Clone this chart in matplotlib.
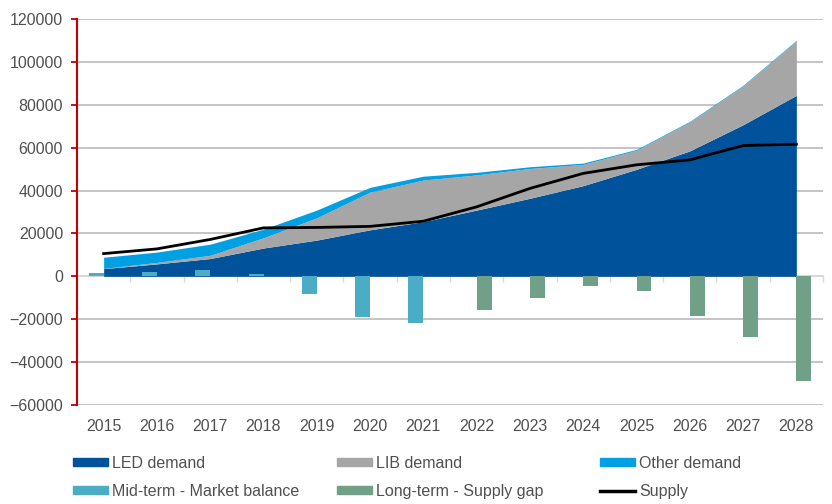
import matplotlib
matplotlib.use("Agg")
import matplotlib.pyplot as plt
import numpy as np
from matplotlib.patches import Patch
from matplotlib.lines import Line2D

plt.rcParams["font.family"] = ["Liberation Sans", "DejaVu Sans"]

years = [2015, 2016, 2017, 2018, 2019, 2020, 2021,
         2022, 2023, 2024, 2025, 2026, 2027, 2028]
led_demand = [3600, 5800, 8300, 13200, 16900, 21700, 25500,
              30900, 36400, 42300, 49900, 58500, 70700, 84400]
lib_demand = [100, 700, 1500, 4800, 10400, 17600, 19400,
              16400, 13900, 9900, 8900, 13500, 18100, 25400]
other_demand = [5200, 4800, 5200, 4000, 3600, 2200, 1800,
                1200, 800, 600, 400, 300, 300, 300]
supply = [10600, 12800, 17200, 22600, 22800, 23300, 25700,
          32400, 41000, 48000, 52000, 54300, 61000, 61600]
mid_term = [1700, 2100, 3000, 1000, -8200, -19000, -21600,
            np.nan, np.nan, np.nan, np.nan, np.nan, np.nan, np.nan]
long_term = [np.nan, np.nan, np.nan, np.nan, np.nan, np.nan, np.nan,
             -15800, -10200, -4500, -7000, -18300, -28400, -48800]

c_led = "#00529B"
c_lib = "#A6A6A6"
c_other = "#00A0E3"
c_mid = "#4BACC6"
c_long = "#70A088"
c_text = "#505050"

W, H = 832, 504
fig = plt.figure(figsize=(W / 100, H / 100), dpi=100)
ax = fig.add_axes([77 / W, 1 - 405 / H, (823 - 77) / W, (405 - 19) / H])

x = np.arange(len(years))
base1 = np.array(led_demand)
base2 = base1 + np.array(lib_demand)
base3 = base2 + np.array(other_demand)

ax.fill_between(x, 0, base1, color=c_led, lw=0, zorder=2)
ax.fill_between(x, base1, base2, color=c_lib, lw=0, zorder=2)
ax.fill_between(x, base2, base3, color=c_other, lw=0, zorder=2)

bw = 0.28
ax.bar(x - bw / 2, mid_term, width=bw, color=c_mid, zorder=3)
ax.bar(x + bw / 2, long_term, width=bw, color=c_long, zorder=3)

ax.plot(x, supply, color="black", lw=2, zorder=4)

ax.set_xlim(-0.5, len(years) - 0.5)
ax.set_ylim(-60000, 120000)
ax.set_yticks(np.arange(-60000, 120001, 20000))
ax.yaxis.grid(True, color="#BFBFBF", lw=1.3)
ax.set_axisbelow(True)

for s in ["top", "right"]:
    ax.spines[s].set_visible(False)
ax.spines["left"].set_color("#C00000")
ax.spines["left"].set_linewidth(1.5)
ax.tick_params(axis="y", colors="#C00000", length=4, width=1.3,
               labelcolor=c_text, labelsize=11.5, pad=6)

# category axis drawn at zero, year labels at the bottom
ax.spines["bottom"].set_position(("data", 0))
ax.spines["bottom"].set_color("#D9D9D9")
ax.spines["bottom"].set_linewidth(1.3)
ax.spines["bottom"].set_zorder(1)
ax.set_xticks(np.arange(0.5, len(years), 1.0))
ax.tick_params(axis="x", colors="#D9D9D9", length=4, width=1,
               labelbottom=False)

sec = ax.secondary_xaxis(0)
sec.set_xticks(x, labels=[str(y) for y in years])
sec.tick_params(length=0, labelsize=11.5, labelcolor=c_text, pad=10)
sec.spines["bottom"].set_visible(False)

# legend in three equal columns
cols = [
    [(Patch(color=c_led), "LED demand"),
     (Patch(color=c_mid), "Mid-term - Market balance")],
    [(Patch(color=c_lib), "LIB demand"),
     (Patch(color=c_long), "Long-term - Supply gap")],
    [(Patch(color=c_other), "Other demand"),
     (Line2D([], [], color="black", lw=2.5), "Supply")],
]
for left, items in zip([72.7, 336.7, 600], cols):
    fig.legend([h for h, _ in items], [l for _, l in items],
               loc="upper left", bbox_to_anchor=(left / W, 1 - 456 / H),
               frameon=False, fontsize=11.5, handlelength=2.2,
               handleheight=0.4, handletextpad=0.25, labelspacing=0.8,
               borderpad=0, borderaxespad=0, labelcolor=c_text)

fig.savefig("out.png", dpi=100)
